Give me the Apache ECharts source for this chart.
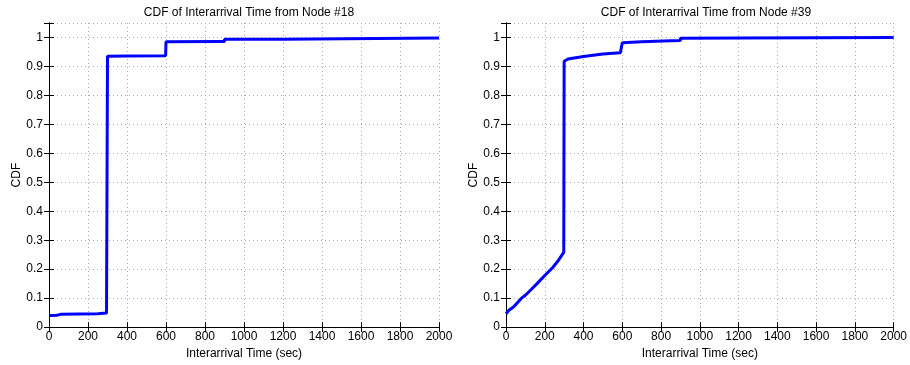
<!DOCTYPE html>
<html><head><meta charset="utf-8">
<script src="https://cdn.jsdelivr.net/npm/echarts@6/dist/echarts.min.js"></script>
<style>html,body{margin:0;padding:0;background:#fff}#c{width:910px;height:365px}</style>
</head><body><div id="c"></div>
<script>
const titles = ['CDF of Interarrival Time from Node #18', 'CDF of Interarrival Time from Node #39'];
const xName = 'Interarrival Time (sec)';
const yName = 'CDF';
// node #18 CDF points [time, cdf]
const node18X = [0, 40, 60, 150, 250, 295, 300, 300, 400, 598, 600, 600, 880, 900, 900, 1200, 1200, 2000];
const node18Y = [0.040, 0.041, 0.044, 0.045, 0.046, 0.049, 0.050, 0.935, 0.936, 0.937, 0.937, 0.985, 0.986, 0.986, 0.994, 0.994, 0.997, 0.998];
// node #39 CDF points [time, cdf]
const node39X = [0, 15, 40, 60, 80, 100, 130, 160, 200, 240, 270, 290, 298, 300, 320, 400, 500, 590, 598, 600, 700, 850, 900, 900, 1200, 2000];
const node39Y = [0.046, 0.058, 0.070, 0.085, 0.100, 0.110, 0.130, 0.150, 0.178, 0.205, 0.230, 0.250, 0.258, 0.918, 0.926, 0.934, 0.943, 0.947, 0.948, 0.982, 0.985, 0.989, 0.990, 0.997, 0.998, 1.0];
const xTicks = [0, 200, 400, 600, 800, 1000, 1200, 1400, 1600, 1800, 2000];
const yTicks = [0, 0.1, 0.2, 0.3, 0.4, 0.5, 0.6, 0.7, 0.8, 0.9, 1];

const font = 'Liberation Sans, Arial, sans-serif';
const grids = [
  {left: 49, right: 471, top: 23, bottom: 35},
  {left: 506, right: 14, top: 23, bottom: 35}
];
const xAxes = [], yAxes = [], series = [];
const datasets = [[node18X, node18Y], [node39X, node39Y]];
grids.forEach((g, i) => {
  const common = {gridIndex: i, min: 0, max: 2000, interval: 200, type: 'value'};
  xAxes.push(Object.assign({}, common, {
    position: 'bottom',
    axisLine: {show: true, lineStyle: {color: '#000', width: 1}},
    axisTick: {show: true, inside: true, length: 5, lineStyle: {color: '#000'}},
    axisLabel: {show: true, color: '#000', fontSize: 12, fontFamily: font, margin: 4,
      formatter: v => xTicks.includes(v) ? String(v) : ''},
    splitLine: {show: true, lineStyle: {color: '#aaa', type: [1, 3], width: 1}},
    name: xName, nameLocation: 'middle', nameGap: 20,
    nameTextStyle: {color: '#000', fontSize: 12, fontFamily: font}
  }));
  xAxes.push(Object.assign({}, common, {
    position: 'top',
    axisLine: {show: true, lineStyle: {color: '#000', width: 1}},
    axisTick: {show: true, inside: true, length: 5, lineStyle: {color: '#000'}},
    axisLabel: {show: false}, splitLine: {show: false}
  }));
  const ycommon = {gridIndex: i, min: 0, max: 1.05, interval: 0.1, type: 'value'};
  yAxes.push(Object.assign({}, ycommon, {
    position: 'left',
    axisLine: {show: true, lineStyle: {color: '#000', width: 1}},
    axisTick: {show: true, inside: true, length: 5, lineStyle: {color: '#000'}},
    axisLabel: {show: true, color: '#000', fontSize: 12, fontFamily: font, margin: 6,
      formatter: v => {
        const t = yTicks.find(k => Math.abs(k - v) < 1e-6);
        return t === undefined ? '' : String(t);
      }},
    splitLine: {show: true, lineStyle: {color: '#aaa', type: [1, 3], width: 1}},
    name: yName, nameLocation: 'middle', nameGap: 26, nameRotate: 90,
    nameTextStyle: {color: '#000', fontSize: 12, fontFamily: font}
  }));
  yAxes.push(Object.assign({}, ycommon, {
    position: 'right',
    axisLine: {show: true, lineStyle: {color: '#000', width: 1}},
    axisTick: {show: true, inside: true, length: 5, lineStyle: {color: '#000'}},
    axisLabel: {show: false}, splitLine: {show: false}
  }));
  const [xs, ys] = datasets[i];
  series.push({
    type: 'line', xAxisIndex: i * 2, yAxisIndex: i * 2,
    data: xs.map((x, k) => [x, ys[k]]),
    showSymbol: false, symbol: 'none', animation: false,
    lineStyle: {color: '#0000ff', width: 3}, z: 5
  });
});
const chart = echarts.init(document.getElementById('c'), null, {renderer: 'canvas'});
chart.setOption({
  backgroundColor: '#fff',
  animation: false,
  title: titles.map((t, i) => ({
    text: t, left: i === 0 ? 244 : 701, top: 2, textAlign: 'center',
    textStyle: {fontSize: 12, fontWeight: 'normal', color: '#000', fontFamily: font}
  })),
  grid: grids,
  xAxis: xAxes,
  yAxis: yAxes,
  series: series
});
</script></body></html>
